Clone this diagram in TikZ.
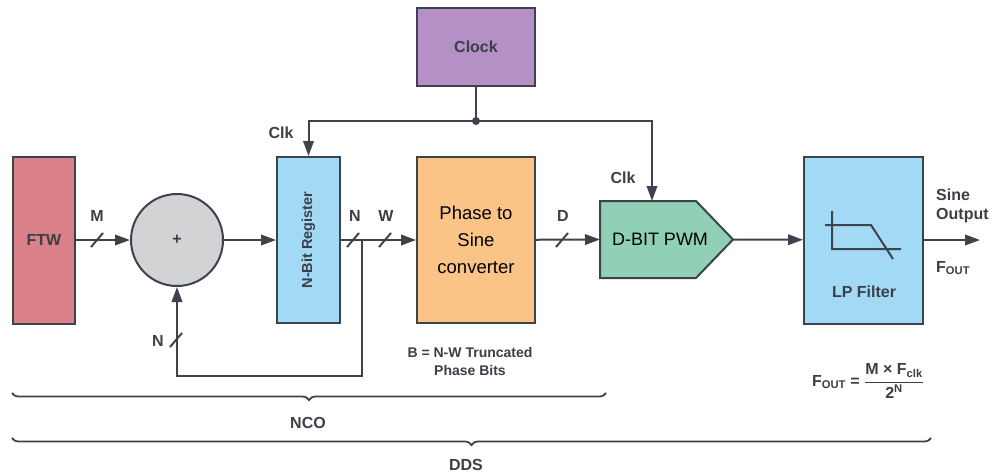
\documentclass[tikz,border=0pt]{standalone}
\usepackage{fontspec}
\setmainfont{Liberation Sans}
\usepackage{amsmath}
\usetikzlibrary{positioning,arrows.meta,decorations.pathreplacing}
\definecolor{ddsred}{RGB}{217,128,136}
\definecolor{ddsgray}{RGB}{209,211,212}
\definecolor{ddsblue}{RGB}{162,218,246}
\definecolor{ddsorange}{RGB}{250,196,134}
\definecolor{ddsgreen}{RGB}{143,208,182}
\definecolor{ddspurple}{RGB}{180,144,198}
\definecolor{ddsline}{RGB}{62,66,76}
\definecolor{ddstext}{RGB}{60,62,72}

\begin{document}
\begin{tikzpicture}[x=1pt,y=-1pt,
  blk/.style={draw=ddsline, line width=2pt, inner sep=0pt},
  lbl/.style={text=ddstext, inner sep=1pt, font=\fontsize{16}{18}\selectfont\bfseries},
  sig/.style={draw=ddsline, line width=2pt, -{Triangle[length=15pt,width=10.5pt]}},
  wire/.style={draw=ddsline, line width=2pt}]
  \useasboundingbox (0,0) rectangle (993,474);

  % blocks (coordinates are pixels of the original figure)
  \node[blk, fill=ddsred, minimum width=62pt, minimum height=167pt, lbl] (ftw) at (44,240) {FTW};
  \node[blk, circle, fill=ddsgray, minimum size=92pt, lbl] (add) at (177,240) {+};
  \node[blk, fill=ddsblue, minimum width=63pt, minimum height=166pt] (reg) at (308.5,240) {};
  \node[lbl, rotate=90, font=\fontsize{14.5}{16}\selectfont\bfseries] (regtxt) at (reg.center) {N-Bit Register};
  \node[blk, fill=ddsorange, minimum width=118pt, minimum height=166pt, align=center,
        font=\fontsize{18.5}{27}\selectfont] (phase) at (476,240) {Phase to\\Sine\\converter};
  \node[blk, fill=ddspurple, minimum width=118pt, minimum height=78pt, lbl] (clock) at (476,47) {Clock};
  % PWM block: pentagon pointing right
  \draw[blk, fill=ddsgreen] (600,201) -- (696,201) -- (733,239.5) -- (696,278) -- (600,278) -- cycle;
  \coordinate (pwmin) at (600,239.5);
  \coordinate (pwmout) at (733,239.5);
  \coordinate (pwmtop) at (652,201);
  \node[font=\fontsize{18}{20}\selectfont] (pwm) at (660,239.5) {D-BIT PWM};
  \node[blk, fill=ddsblue, minimum width=119pt, minimum height=167pt] (lp) at (863.5,240) {};
  \node[lbl] (lptxt) at (864,292) {LP Filter};

  % filter symbol
  \draw[wire] (832,211) -- (832,250) (825,225) -- (871,225) -- (893,259) (832,249) -- (901,249);

  % signal path
  \coordinate (tap) at (362,240);
  \coordinate (out) at (980,240);
  \draw[sig] (ftw) -- (add);
  \draw[sig] (add) -- (reg);
  \draw[sig] (reg) -- (phase);
  \draw[sig] (phase) -- (pwmin);
  \draw[sig] (pwmout) -- (lp);
  \draw[sig] (lp) -- (out);
  \draw[sig] (tap) -- ++(0,136) -| (add.south);

  % clock distribution
  \coordinate (clkdot) at (476,121);
  \draw[wire] (clock) -- (clkdot);
  \draw[sig] (clkdot) -| (reg.north);
  \draw[sig] (clkdot) -| (pwmtop);
  \fill[ddsline] (clkdot) circle (4pt);

  % bus width marks
  \foreach \x/\y in {97/240,353/240,385/240,562/240,176/340}
    \draw[wire] (\x,\y) +(-6,7) -- +(6,-7);

  % labels
  \node[lbl] (lblm) at (97,216) {M};
  \node[lbl] (lbln) at (355,216) {N};
  \node[lbl] (lblw) at (386,216) {W};
  \node[lbl] (lbld) at (563,216) {D};
  \node[lbl] (lblfb) at (158,341) {N};
  \node[lbl] (lblclka) at (281,133) {Clk};
  \node[lbl] (lblclkb) at (623,178) {Clk};
  \node[lbl, anchor=west, align=left, font=\fontsize{16}{19}\selectfont\bfseries] (lblsine) at (935,206) {Sine\\Output};
  \node[lbl, anchor=west] (lblfout) at (935,268) {F\textsubscript{OUT}};
  \node[lbl, align=center, font=\fontsize{14}{18}\selectfont\bfseries] (lblb) at (470,361) {B = N-W Truncated\\Phase Bits};
  \node[lbl] (lbleq) at (868,381) {F\textsubscript{OUT} = $\dfrac{\text{M × F\textsubscript{clk}}}{\text{2\textsuperscript{N}}}$};

  % braces
  \draw[wire, line width=1.8pt, decorate, decoration={brace, mirror, amplitude=7pt}]
    (12,393) -- (606,393);
  \node[lbl] (nco) at (308,423) {NCO};
  \draw[wire, line width=1.8pt, decorate, decoration={brace, mirror, amplitude=7pt}]
    (12,438) -- (931,438);
  \node[lbl] (dds) at (466,465) {DDS};
\end{tikzpicture}
\end{document}
